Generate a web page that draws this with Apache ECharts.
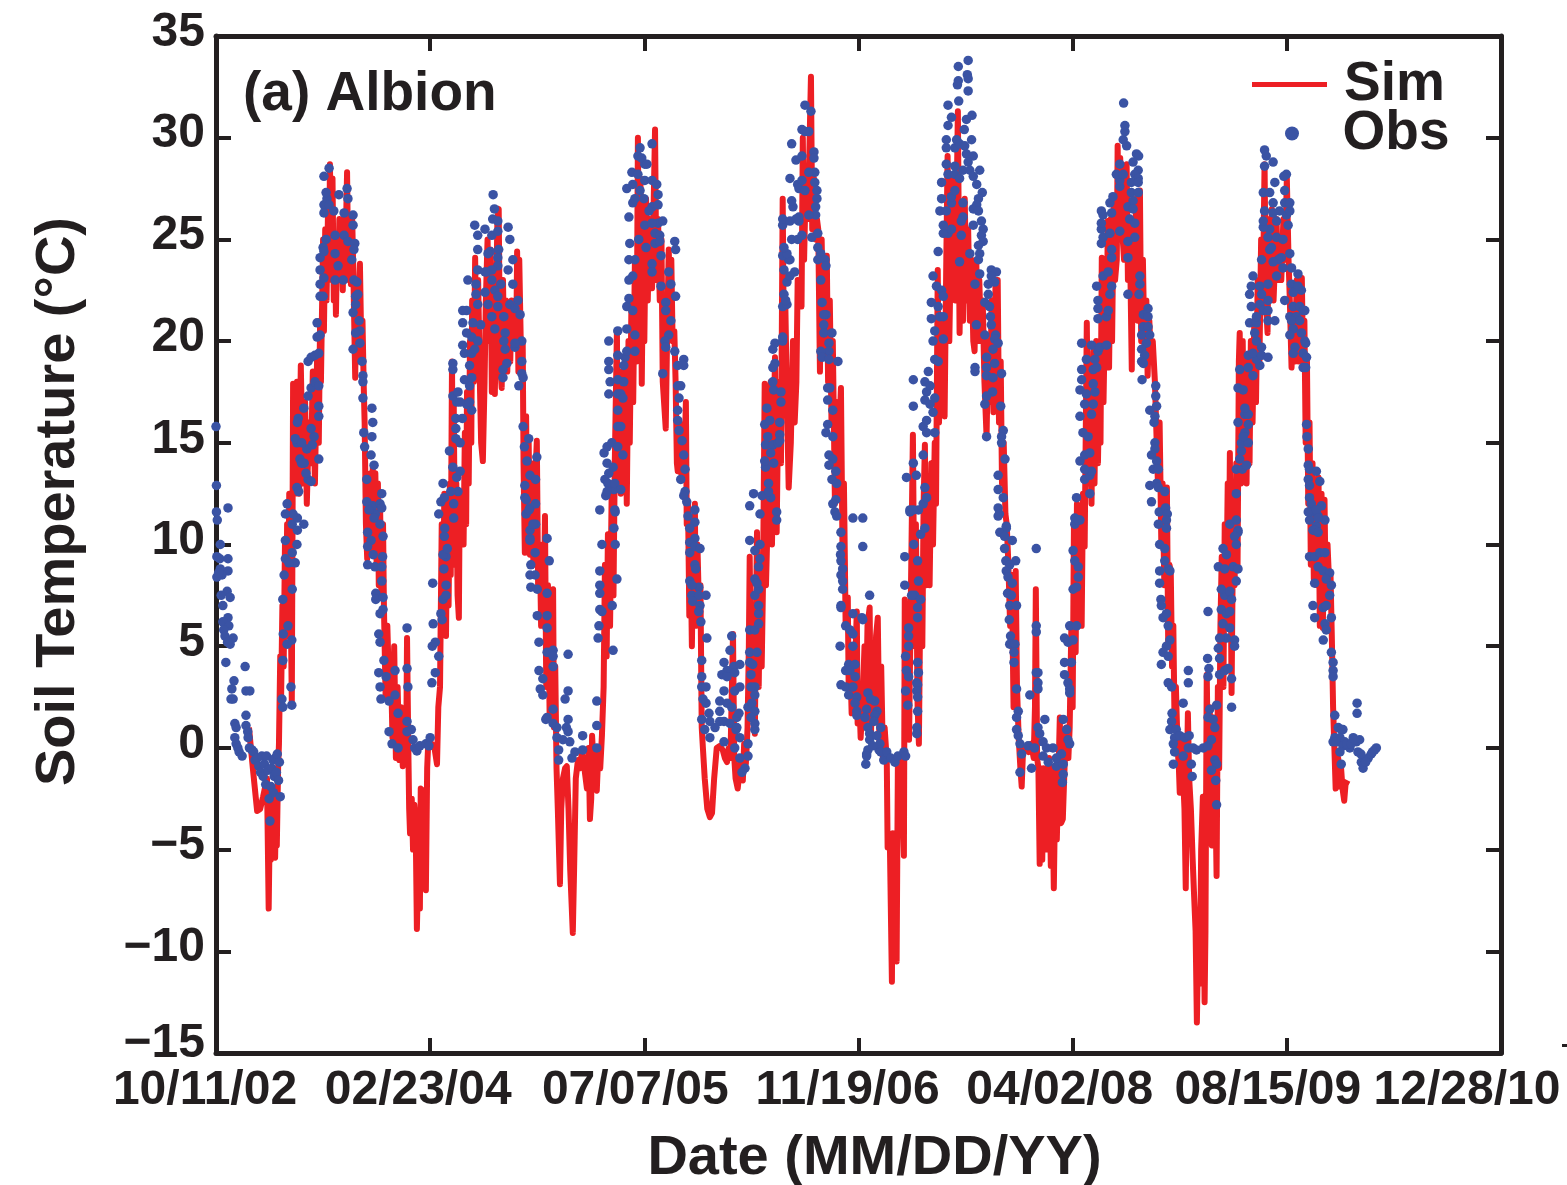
<!DOCTYPE html>
<html>
<head>
<meta charset="utf-8">
<title>Soil temperature - Albion</title>
<script src="https://cdn.jsdelivr.net/npm/echarts@6/dist/echarts.min.js"></script>
<style>
  html, body { margin: 0; padding: 0; background: #fff; }
  #chart { width: 1567px; height: 1185px; }
</style>
</head>
<body>
<div id="chart"></div>
<script>
// x is days since 10/11/02, y is soil temperature in deg C
const dateLabels = ["10/11/02", "02/23/04", "07/07/05", "11/19/06", "04/02/08", "08/15/09", "12/28/10"];
const dateLabelShift = [22, 24, 18, 22, 26, 38, 68];
const tempTicks = [35, 30, 25, 20, 15, 10, 5, 0, -5, -10, -15];

const sim2003 = [[77,1],[86,-1],[96,-3.1],[103,-3],[110,-2.4],[117,-1.7],[119,-1.5],[123,-7.9],[126,-3],[128,-5.5],[131,-2],[135,-4.6],[138,-5.4],[140,-3],[142,-4.8],[145,-1],[147,0.2],[150,4.5],[152,2.5],[155,7],[158,4],[161,10],[164,6],[166,11],[168,5.5],[171,12.5],[174,8],[177,2.2],[180,17.9],[184,12.5],[189,18],[194,12.5],[198,18.8],[203,13],[208,17],[212,12],[217,16],[222,14],[226,18.5],[231,13],[236,19.2],[240,15],[243,21],[245,18],[250,25],[252,20.5],[255,25.5],[258,22],[262,27],[264,23],[266,28.7],[269,24],[272,28],[275,22],[278,25],[280,21.3],[283,25],[285,23],[288,26],[291,23],[293,25.5],[296,22.5],[299,26],[302,24],[306,28.3],[309,23],[312,25],[315,22.8],[318,26],[321,23],[325,18.2],[328,23],[331,19],[333,22],[336,23.8],[339,20],[342,21],[345,17.7],[347,16],[350,11],[353,9.3],[356,12],[359,9.5],[361,13.5],[364,10],[366,13.8],[369,9.5],[372,13.5],[375,9],[378,13],[380,8],[383,12],[386,7.5],[390,11],[392,7],[396,2.5],[400,6],[404,3],[408,4.5],[412,0.5],[416,5],[420,-0.5],[424,3],[428,-0.6],[432,2],[436,-0.9],[440,1.5],[444,-0.3],[446,5.4],[449,0],[451,-3],[453,-4.2],[457,-2.5],[460,-5],[463,-2.8],[466,-3.5],[469,-8.9],[472,-6],[476,-7.9],[478,-2],[483,-2.1],[487,-5],[490,-7],[493,-1],[495,0],[504,0.2],[510,0],[516,-0.8],[519,2]];
const sim2004 = [[523,3],[527,11],[530,6],[533,12.5],[537,5.5],[540,12],[543,7],[546,13],[548,8.5],[551,19],[553,11],[555,17],[558,9],[561,13],[564,7.5],[567,6.4],[569,12.5],[572,11],[576,12],[578,10],[581,15.5],[584,11],[586,17.5],[590,13],[593,20],[596,15],[598,22],[602,18],[605,24.1],[608,19],[612,23],[616,18],[619,15],[623,14.1],[627,18],[630,22],[634,25],[638,20],[641,24.5],[644,17.5],[647,23],[651,17.4],[654,22],[657,26],[660,26.5],[663,19],[667,17.7],[670,23],[673,19],[677,22],[680,18.5],[683,21],[687,19],[690,22],[694,20],[698,22],[701,20],[703,24.4],[706,18.5],[708,24],[712,19.4],[716,20],[718,14],[721,9.6],[724,16.3],[727,10],[730,15],[733,9.5],[737,14],[741,9],[745,13],[749,15.1],[752,8],[756,10],[759,6],[762,9],[765,6],[768,11.4],[771,3],[775,8],[779,1.5],[783,7],[787,7.8],[789,1],[792,4],[795,-1],[798,-3],[803,-6.7],[806,-3],[810,-1.5],[815,-1],[819,-0.9],[823,-3],[827,-6],[833,-9.1],[836,-6],[840,-1.5],[845,-0.6],[850,-1],[854,-0.2],[860,-1],[866,-2],[870,0],[873,-3.5],[876,-2.5],[878,0.6],[882,-1],[886,-2],[889,-2.1],[893,0],[897,-1],[901,0.6]];
const sim2005 = [[905,3],[908,9],[912,4.5],[915,10.5],[920,6],[924,13],[928,7.5],[931,14],[936,20.5],[938,13],[942,16],[945,12.5],[948,18.5],[952,14],[955,19],[959,12],[963,20],[966,15],[970,22],[974,17],[978,24],[982,19],[985,30],[988,21],[991,28],[994,17.9],[997,24],[1000,20],[1004,27],[1008,22],[1012,26],[1018,22.6],[1022,27],[1025,30.4],[1028,23],[1032,26],[1036,22],[1040,25],[1043,18],[1050,15.7],[1053,20],[1057,24.5],[1060,22],[1063,24],[1066,20],[1070,20.5],[1073,18],[1076,14],[1078,13.6],[1082,16],[1086,13.5],[1090,15],[1093,13.5],[1097,17],[1099,11],[1102,12],[1105,6.5],[1108,10],[1111,5],[1114,9.5],[1118,12],[1120,6],[1124,10],[1128,6.4],[1131,8],[1134,1],[1137,-0.1],[1141,-1.5],[1147,-3],[1153,-3.4],[1158,-3.2],[1163,-1.5],[1169,0],[1176,0.1],[1183,-0.1],[1188,-0.5],[1193,-0.7],[1197,0],[1201,-0.5],[1204,2.5],[1207,5.6],[1210,-0.5],[1213,-1.5],[1218,-2],[1222,-1.2],[1226,-0.5],[1230,-1.6],[1233,0.2],[1237,-0.8],[1241,1],[1244,5],[1246,9.4],[1249,3],[1252,6],[1255,2],[1258,0.7]];
const sim2006 = [[1261,7],[1263,10.6],[1267,3],[1271,9],[1274,4],[1277,8],[1281,17.9],[1284,8],[1288,11.3],[1291,12],[1295,18],[1298,10],[1302,15],[1305,19.2],[1309,10.6],[1312,16],[1316,18],[1319,14],[1323,27],[1326,19],[1329,22],[1333,17],[1337,12.8],[1342,15],[1347,20],[1351,16],[1355,18],[1358,23],[1367,21.7],[1370,30],[1373,24],[1377,28],[1381,26],[1385,29],[1389,33],[1392,25.5],[1396,28],[1400,25],[1403,26],[1406,25.5],[1410,18.5],[1414,25],[1418,19.5],[1422,22],[1426,24.2],[1429,18],[1433,22],[1437,16],[1440,20],[1445,12],[1449,17],[1452,12.5],[1456,16],[1459,17.7],[1463,9],[1466,13],[1470,6],[1475,7.4],[1477,3],[1480,5],[1484,1.7],[1492,4],[1496,6.7],[1498,1.2],[1501,3],[1505,0.5],[1510,2.5],[1514,5],[1517,1],[1521,6],[1526,6.9],[1529,0.5],[1533,5],[1537,1.5],[1541,5.5],[1545,6.4],[1549,0],[1553,4],[1557,-0.5],[1561,1],[1566,-0.6],[1568,-4.9],[1573,-4.3],[1578,-11.5],[1580,-4.2],[1585,-8],[1589,-10.5],[1592,-0.6],[1596,-0.5],[1601,-1.5],[1606,-5.3],[1608,7.3],[1611,0.5],[1615,7],[1618,0.4]];
const sim2007 = [[1622,7],[1627,15.4],[1631,5],[1634,11],[1638,2],[1641,0.2],[1645,9],[1649,5],[1652,12],[1655,14.9],[1658,8],[1662,13],[1666,8],[1670,14],[1674,10],[1678,15],[1681,12],[1685,23.5],[1688,16],[1692,21],[1696,17],[1701,16.3],[1705,24],[1708,29.1],[1712,20],[1716,25],[1720,28],[1726,22],[1732,31.3],[1736,20.4],[1740,26],[1744,21],[1748,27],[1752,22],[1756,25.5],[1760,21],[1764,24],[1768,20],[1771,19.5],[1775,24],[1778,20],[1782,23],[1786,20],[1790,22],[1794,18],[1799,15.3],[1803,20],[1807,17],[1811,22],[1815,16.5],[1820,23],[1825,23],[1828,16],[1832,19],[1835,13],[1839,15],[1843,11.5],[1846,11],[1850,9],[1854,6],[1858,8.5],[1862,2],[1867,8.7],[1870,3],[1874,0.5],[1878,-1],[1881,-1.9],[1884,-0.2],[1890,0],[1897,-0.2],[1903,0.2],[1909,-0.5],[1912,2],[1914,7.8],[1917,-0.5],[1920,-1],[1923,-5.7],[1926,-1],[1929,-5.5],[1932,-1],[1935,-4],[1938,-1],[1941,-5],[1945,-0.5],[1949,-5.8],[1952,-1],[1956,-6.9],[1960,-1],[1963,-4.5],[1966,-2],[1970,1.5],[1973,-3.7],[1977,-3.5],[1981,-1],[1985,1],[1990,-0.5],[1993,1]];
const sim2008 = [[1997,6],[2000,2],[2003,11],[2007,4.7],[2010,12],[2014,6],[2017,11.5],[2021,6],[2024,12.5],[2028,9.9],[2033,20.9],[2037,13],[2041,18],[2044,12],[2048,19.5],[2051,13],[2055,20],[2059,14],[2063,19],[2065,15],[2068,24.1],[2072,17],[2076,22],[2079,18.7],[2082,25.9],[2085,18.7],[2089,26],[2092,20],[2096,27],[2099,23],[2103,24],[2105,29.6],[2108,25],[2111,29],[2114,26],[2117,26],[2120,24],[2123,28],[2126,28.7],[2129,23],[2133,26],[2138,18.6],[2141,26],[2144,22],[2148,27],[2152,21],[2157,27.4],[2160,20],[2164,24],[2168,19],[2172,22],[2175,18.3],[2179,21],[2183,19],[2187,20],[2192,18],[2196,18],[2199,13],[2203,16],[2207,10],[2210,13],[2214,8],[2217,10],[2220,12.8],[2223,5.2],[2226,9],[2229,8.7],[2232,4],[2235,6],[2238,1],[2241,3],[2245,0],[2248,-1],[2250,-2.2],[2254,0.5],[2258,-1.5],[2261,-3],[2264,-6.9],[2267,-1],[2269,1.7],[2272,-1.5],[2276,-3],[2280,-5.4],[2283,-7],[2287,-9],[2290,-13.5],[2294,-8],[2297,-11.6],[2300,-5],[2304,-2.4],[2308,-12.5],[2310,-9],[2313,3.6],[2316,-1],[2320,2],[2325,-4.8],[2329,1.5],[2333,-2],[2336,-6.3],[2339,3],[2342,-1]];
const sim2009 = [[2345,6],[2348,9.4],[2352,3],[2355,11],[2358,6],[2362,13],[2365,9],[2367,14.5],[2371,2.7],[2375,12],[2378,8],[2382,14],[2385,9],[2388,19],[2390,20.4],[2393,13],[2397,20],[2400,13.5],[2403,19],[2406,13],[2409,19],[2413,14],[2416,20],[2420,16],[2424,21],[2428,17],[2432,23],[2436,19],[2440,25],[2444,22],[2448,28.7],[2451,22],[2455,20.4],[2458,26],[2462,23],[2465,26.5],[2469,22],[2472,22],[2476,26],[2479,23],[2483,25],[2487,23],[2492,26],[2496,24],[2500,28],[2504,24],[2507,22],[2511,18.7],[2515,21],[2519,19],[2523,23],[2527,19],[2531,22],[2535,23.1],[2538,18.7],[2541,21],[2544,15],[2547,19],[2550,12],[2553,16],[2556,9],[2560,14],[2563,8.3],[2567,13],[2570,8],[2574,13.3],[2577,6],[2581,12.5],[2584,5.9],[2588,12.2],[2591,7],[2595,10],[2599,8],[2602,8.5],[2605,5.5],[2608,2],[2611,0],[2614,-2],[2617,-2],[2620,-0.5],[2623,-1.9],[2626,-0.8],[2630,-2],[2634,-2.6],[2637,-1.8],[2642,-1.6]];

const obs2003 = [[0,15.8],[1,12.9],[1,11.6],[3,11.2],[28,11.8],[10,10],[2,9.4],[9,9.3],[28,9.3],[10,8.8],[28,8.7],[14,8.5],[2,8.4],[6,8.6],[26,7.7],[12,7.5],[33,7.4],[16,7],[28,6.4],[16,6.2],[30,6],[18,5.8],[21,5.5],[40,5.4],[33,5.1],[27,5.2],[23,4.2],[42,3.3],[68,4],[37,2.9],[70,2.8],[79,2.8],[40,2.4],[35,2.4],[70,1.6],[44,1.2],[47,1],[70,1.1],[74,0.8],[44,0.5],[47,0.2],[51,0],[54,-0.2],[61,-0.4],[75,0.5],[78,0],[84,-0.1],[88,-0.2],[91,-0.6],[96,-0.5],[100,-0.9],[104,-1.2],[107,-0.4],[110,-1.4],[113,-0.8],[116,-1.8],[118,-0.4],[121,-1.1],[124,-2.5],[126,-3.6],[128,-1.9],[130,-1],[133,-0.6],[134,-2.2],[136,-1.4],[138,-0.5],[141,-1.2],[143,-0.3],[146,-1.6],[148,-0.7],[150,-2.4],[154,2.4],[156,2],[177,2.1],[175,3],[156,4.3],[166,5.1],[157,5.6],[177,5.3],[168,6],[156,7.3],[178,7.8],[159,8.5],[162,9.3],[185,9.1],[170,9.1],[178,9.6],[162,10.2],[189,10],[178,11],[190,10.7],[190,11.3],[205,11],[180,11.5],[162,11.5],[166,12],[189,12.8],[193,12.6],[215,13.2],[222,13.1],[210,13.5],[206,14],[196,14.2],[240,14.2],[200,14],[212,14.7],[189,15],[185,15.2],[200,15],[225,14.9],[229,15.3],[192,16.2],[205,16.7],[215,17.3],[222,17.7],[240,16.8],[240,16.3],[231,18],[240,17.8],[190,16],[222,15.7],[215,19],[222,19.2],[231,19.3],[240,19.4],[236,20.2],[243,20.3],[236,20.9],[243,22.2],[250,22.2],[243,22.8],[243,23.5],[243,24.1],[250,24.6],[257,25],[252,26.7],[259,27],[252,28.1],[264,28.5],[257,27.3],[252,26.3],[264,26.7],[275,26.4],[287,27.2],[306,27.5],[308,27],[299,26.3],[320,26.2],[320,25.7],[278,25.2],[299,25.2],[308,24.9],[324,24.8],[322,24.5],[252,24.4],[278,24.3],[285,23.7],[252,23.1],[278,23],[297,23],[317,24],[322,23],[329,22.9],[326,22.2],[331,22.3],[326,21.8],[320,21.4],[334,21],[336,20.5],[326,20.4],[336,19.9],[320,19.6],[341,19],[343,18.3],[343,18],[343,17.2],[364,16.7],[366,16],[345,15.5],[364,15.3],[347,14.8],[362,14.4],[369,13.9],[352,13.2],[352,12.1],[366,11.9],[387,12.5],[383,12],[372,11.5],[387,11.8],[357,11.7],[369,11.3],[383,11],[354,10.6],[362,10.2],[354,9.9],[390,10.4],[367,9.5],[389,9.4],[354,9],[371,8.9],[387,8.9],[387,8.2],[373,7.6],[373,7.3],[390,7.4],[390,6.8],[383,6.6],[380,5.6],[383,5.2],[380,3.7],[392,4.3],[383,3],[385,2.4],[397,3.5],[446,5.9],[446,3.9],[418,3.8],[418,2.6],[404,2.3],[448,3],[425,1.7],[446,1.3],[456,0.9],[404,0.8],[446,0.8],[411,0.2],[425,0],[460,0.4],[464,0],[469,-0.15],[476,0.1],[490,0.2],[500,0.5],[497,0.1]];
const obs2004 = [[504,3.2],[512,3.7],[520,4.5],[505,5],[512,5.2],[507,6.1],[525,6.6],[506,8.1],[528,6.3],[530,7.3],[537,7.5],[537,8],[532,8.8],[537,9.4],[530,9.5],[540,9.8],[533,10.4],[534,10.8],[555,11.3],[555,12],[520,11.5],[525,12.1],[530,13],[533,12.3],[565,12.6],[548,12.6],[562,13.3],[553,13.8],[570,13.6],[545,14.6],[560,15.2],[570,15],[560,15.7],[560,16.2],[575,16.2],[597,16.6],[562,17],[585,16.9],[570,17],[592,17],[553,17.3],[565,17.5],[592,17.8],[580,18.1],[597,18.2],[553,18.6],[553,18.9],[592,18.8],[580,19.4],[597,19.4],[576,19.8],[604,19.6],[597,20.2],[611,20],[576,20.9],[600,20.9],[585,20.4],[585,21.5],[576,21.5],[607,22.3],[588,23],[611,23.5],[632,23.4],[607,22.8],[611,24.5],[640,24.4],[611,25.2],[604,25.7],[628,25.5],[644,25.2],[660,24.5],[646,26],[650,26.5],[647,27.2],[635,24.3],[658,25.9],[658,25.4],[682,25.6],[686,25],[658,24.1],[658,23.7],[682,23.5],[693,24],[644,23.5],[644,23],[628,23.4],[665,22.8],[651,22.5],[658,22.2],[693,22.8],[705,22],[686,21.8],[628,22.4],[635,21.8],[611,21.8],[658,21.7],[698,21.6],[644,21.2],[672,21.2],[618,20.8],[651,20.6],[710,21.3],[675,20.4],[672,20],[675,19.6],[698,19.7],[714,20],[698,19.9],[679,18.9],[670,18.6],[714,19],[670,18.2],[714,18.4],[707,17.8],[717,18.2],[717,15.8],[730,15.2],[720,14.8],[726,14.1],[749,14.3],[733,13.4],[721,12.9],[721,12.3],[746,13.2],[724,12.2],[733,11.8],[746,12],[724,11.5],[746,11],[733,10.7],[731,11.7],[740,11],[733,10.3],[773,10.3],[733,10.2],[745,9.6],[778,9.2],[735,9],[745,8.5],[733,8.5],[735,7.9],[750,7.8],[773,7.6],[750,6.5],[773,6.5],[773,5.9],[754,5.2],[773,4.7],[787,4.8],[787,4.5],[754,3.8],[787,4],[763,3.4],[757,2.9],[763,2.6],[787,1.9],[773,1.5],[770,1.4],[787,1.2],[822,4.6],[822,2.8],[815,2.4],[822,1.4],[818,1],[822,0.8],[796,1],[796,0.5],[810,0.4],[800,-0.1],[826,0.3],[856,0.6],[800,-0.6],[831,-0.5],[838,-0.2],[856,-0.1],[889,0],[889,1.1],[889,2.3],[927,4.8],[892,5.4],[894,6],[925,7],[896,6.8],[901,6.7],[896,7.6],[896,8],[896,8.7],[936,8.3],[901,10],[932,10],[929,10.8],[932,11.6],[896,11.7],[910,12.4],[929,12.7],[908,13.2]];
const obs2005 = [[913,14],[915,13],[913,12.6],[931,11.7],[917,13.5],[906,14.5],[913,14.8],[924,15],[931,13],[945,12.7],[950,14.4],[927,13.8],[938,14.8],[938,15.8],[945,15.8],[938,16.6],[938,17.4],[917,17.4],[945,17.4],[950,17.2],[920,18],[917,18.6],[938,18.1],[952,18],[952,18.8],[955,19.2],[917,19],[938,19.3],[917,20],[938,20.5],[959,19.5],[978,19.5],[959,20.6],[978,20.3],[959,21.7],[973,21.5],[964,22.1],[964,23],[973,23.2],[964,24],[966,24.8],[978,24],[987,25],[964,26.1],[973,26.8],[959,27.5],[973,27.7],[971,28.3],[985,28.2],[978,27],[990,27.4],[985,29.1],[990,29.5],[1001,28.7],[1018,29.7],[994,29],[1006,28.7],[1001,27.9],[1018,27.9],[1029,27.7],[1032,27.2],[999,27],[1018,26.6],[1032,26.7],[1011,26.4],[1032,25.8],[1001,25.7],[1018,25.8],[1025,25.3],[1004,24.6],[1025,24.8],[1043,25.9],[1036,25.2],[1036,24.9],[1071,24.9],[1073,24.5],[1039,24.2],[1018,23.8],[1018,23.4],[1057,23.4],[1039,22.7],[1062,22.8],[1073,22.2],[1050,21.9],[1050,21.5],[1062,21],[1057,20.3],[1048,20],[1050,19.7],[1071,19.5],[1092,19.1],[1092,18.8],[1078,18.8],[1043,18.4],[1078,17.8],[1085,17.8],[1081,17.2],[1078,16.6],[1078,16.1],[1081,15.6],[1088,15.1],[1092,14.4],[1085,13.2],[1095,13.7],[1095,12.6],[1092,12.4],[1099,12.1],[1102,11.4],[1118,11.7],[1118,11.1],[1106,10.8],[1118,10.3],[1106,10.1],[1106,9.6],[1118,9.9],[1130,9.8],[1118,9],[1120,8.8],[1106,8.2],[1127,7.9],[1111,8],[1111,7.5],[1127,7.5],[1113,7.2],[1144,7.5],[1130,7],[1127,6.7],[1132,6.2],[1146,5.4],[1134,4.3],[1134,3.5],[1134,3],[1144,3],[1137,2.4],[1144,2.2],[1151,1.7],[1134,1.4],[1153,1.3],[1176,1.3],[1141,0.9],[1165,1],[1186,1.3],[1200,1.2],[1153,0.5],[1186,0.3],[1214,0.9],[1186,4.2],[1200,4.8],[1193,3.8],[1181,3.6],[1193,3.5],[1186,2.8],[1176,2.3],[1176,1.8],[1204,5.5],[1209,4],[1223,4.1],[1211,3.7],[1211,2.8],[1223,3],[1193,2.2],[1204,2],[1216,1.5],[1221,1.7],[1216,1],[1242,2],[1223,0.5],[1211,0],[1242,0.2],[1223,-0.5],[1242,-0.4],[1235,-1],[1228,-1.2],[1258,1.2],[1258,0.9],[1246,5.8],[1246,4.7],[1246,4.2],[1253,4.1],[1249,3.6],[1258,3],[1258,2.6],[1249,3],[1251,2.2],[1258,1.8],[1249,1.5],[1263,4.7],[1258,5.8],[1267,6.1],[1267,6.6],[1267,7],[1258,7.5],[1267,7.8],[1258,8.3],[1263,8.1],[1267,8.9],[1246,10.2],[1270,9.3],[1270,10],[1258,9.7],[1246,11.9]];
const obs2006 = [[1255,12.5],[1275,12.4],[1270,11.5],[1309,11.6],[1309,11.2],[1295,12.3],[1290,12.6],[1290,13],[1283,13.8],[1281,14.1],[1302,14],[1283,14.9],[1300,14.9],[1312,15],[1295,14.5],[1288,15.3],[1316,15.4],[1316,15.1],[1281,15.9],[1293,16.1],[1316,16],[1286,16.7],[1302,17.6],[1319,17.5],[1319,17],[1300,18],[1300,18.7],[1305,18.9],[1300,19.6],[1305,19.9],[1323,20],[1323,20.2],[1323,21.7],[1333,21.8],[1326,22.3],[1330,22],[1333,22.9],[1351,23.4],[1340,23.2],[1326,23.5],[1337,24],[1323,24.2],[1340,24],[1333,24.3],[1326,24.6],[1323,25.7],[1323,26],[1344,25],[1358,25],[1340,25.9],[1361,25.9],[1347,26.6],[1344,26.9],[1358,27.7],[1340,28],[1354,28.9],[1344,29.7],[1368,30.4],[1375,31.6],[1389,31.3],[1384,30.3],[1375,30.3],[1396,29.3],[1368,29.1],[1396,29],[1398,28.3],[1384,28.3],[1368,27.9],[1398,27.8],[1361,27.5],[1375,27.4],[1403,27.4],[1403,27],[1400,26.6],[1400,26.2],[1384,26.2],[1361,26.1],[1354,26],[1368,25.2],[1391,25.1],[1405,25.3],[1405,24.6],[1412,24.3],[1405,24],[1422,24],[1424,23.7],[1412,23],[1415,21.9],[1424,21.3],[1419,21.3],[1419,20.8],[1419,20.4],[1438,20.4],[1431,19.9],[1431,19.5],[1412,19.5],[1415,19.2],[1431,19.1],[1452,19],[1428,17.7],[1433,17.7],[1428,17.1],[1440,16.6],[1428,15.9],[1424,15.5],[1440,15.3],[1431,14.4],[1440,14.2],[1431,13.9],[1447,13.6],[1438,13.2],[1449,13],[1447,12.2],[1440,12],[1445,11.6],[1449,11.4],[1459,10.6],[1487,11.3],[1510,11.3],[1459,9.9],[1458,9.5],[1459,9.2],[1463,8.8],[1459,8.5],[1463,8.2],[1463,7.8],[1510,9.9],[1459,7],[1459,6.9],[1487,6.6],[1508,6.4],[1510,6.3],[1470,6],[1480,5.8],[1487,5.6],[1457,5],[1487,5],[1526,7.5],[1477,4.1],[1492,4.1],[1470,3.8],[1480,3.8],[1492,3.5],[1459,3.1],[1470,3],[1487,3],[1477,2.6],[1496,2.5],[1492,2.2],[1496,1.8],[1496,1.6],[1522,2.7],[1538,2.3],[1519,1.9],[1543,1.8],[1528,2.4],[1515,1.5],[1538,1.6],[1522,1],[1536,1.3],[1552,1],[1526,0.7],[1526,0.4],[1543,0.6],[1550,0.2],[1548,-0.1],[1522,-0.1],[1533,0.1],[1519,-0.3],[1517,-0.8],[1519,-0.4],[1552,-0.2],[1559,-0.6],[1566,-0.2],[1575,-0.5],[1585,-0.7],[1592,-0.4],[1606,-0.2],[1610,-0.4],[1617,5.9],[1617,5.5],[1610,4.5],[1617,5],[1612,3.8],[1617,3.5],[1610,2.8],[1615,2.1],[1636,3.2],[1638,1.8],[1636,1],[1636,0.7],[1608,8],[1608,9.4],[1620,11.6],[1629,10],[1638,9.2],[1640,11.7],[1645,10.5],[1640,8.2],[1631,7.5],[1624,7.5],[1645,7.3],[1638,6.9],[1638,6.4],[1638,4.2],[1640,3.7],[1638,3.1],[1636,2.8],[1638,2.5]];
const obs2007 = [[1620,11.7],[1628,11.7],[1612,13.3],[1635,13.4],[1628,14],[1651,14.4],[1655,12.8],[1651,12],[1659,12.3],[1655,10.8],[1628,16.8],[1628,18.1],[1655,18],[1663,18.5],[1659,17.5],[1655,17.1],[1667,17.8],[1651,15.8],[1659,16.1],[1659,15.5],[1667,16.9],[1678,17.2],[1674,16.5],[1678,15.5],[1678,19.1],[1686,19],[1674,20],[1678,20.5],[1698,20.1],[1670,21.1],[1690,21.2],[1698,21.2],[1670,21.9],[1686,21.7],[1682,22.7],[1694,22.5],[1698,22.2],[1674,23.2],[1686,24.4],[1709,25.3],[1698,25.3],[1717,25.5],[1698,25.7],[1690,26.4],[1705,26.4],[1717,26.8],[1694,27],[1717,27.1],[1694,27.8],[1709,28.2],[1725,27.4],[1725,28.2],[1705,28.7],[1725,28.6],[1736,28],[1705,29.5],[1725,29.5],[1705,29.9],[1729,29.9],[1709,30.6],[1717,31],[1709,31.6],[1734,31.8],[1756,32.3],[1731,32.6],[1733,32.8],[1754,33.1],[1756,32.9],[1733,33.5],[1756,33.8],[1752,30.9],[1765,31.1],[1747,30.4],[1764,29.9],[1736,29.7],[1748,29.6],[1752,29.2],[1768,29.1],[1756,28.8],[1744,28.4],[1760,28.4],[1783,28.4],[1768,28.1],[1776,27.7],[1789,27.3],[1780,27],[1776,26.7],[1768,26.5],[1780,26.4],[1744,26.8],[1744,26.1],[1740,25.9],[1768,25.7],[1787,25.9],[1791,25.5],[1740,25.2],[1787,25.2],[1791,24.9],[1780,24.7],[1783,24.3],[1780,24],[1736,23.9],[1783,23.3],[1760,24.3],[1810,23.5],[1822,23.4],[1810,23.2],[1818,22.9],[1803,22.8],[1772,22.8],[1803,22.3],[1795,21.9],[1806,21.7],[1775,20.8],[1808,21.2],[1810,20.8],[1795,20.3],[1820,20.3],[1818,20.1],[1826,19.9],[1814,19.6],[1799,19.2],[1818,18.9],[1772,18.7],[1772,18.5],[1799,18.7],[1799,18.3],[1834,18.4],[1814,18.2],[1813,17.5],[1799,17.3],[1795,16.9],[1832,16.8],[1799,15.3],[1838,15.6],[1834,15.3],[1834,15],[1842,14.2],[1826,13.4],[1826,12.7],[1838,12.3],[1826,11.8],[1826,11.4],[1845,10.8],[1830,10.6],[1829,11.5],[1845,10.9],[1841,10.4],[1859,10.2],[1841,9.8],[1844,9.2],[1867,9.2],[1853,9],[1845,8.7],[1849,8.4],[1859,8.1],[1848,7.6],[1857,7.5],[1853,7],[1869,7],[1852,6.3],[1855,5.5],[1853,5.1],[1865,5.1],[1863,4.7],[1863,4.2],[1869,2.9],[1900,2.6],[1873,1.8],[1869,1.5],[1869,0.9],[1873,0.6],[1877,0.2],[1896,0.1],[1881,-0.3],[1911,0],[1919,1],[1923,0.7],[1935,1.4],[1931,0.3],[1877,-1.2],[1904,-1],[1915,3.7],[1915,6],[1915,5.7],[1919,3.7],[1919,3.2],[1919,2.9],[1915,9.8],[1939,0],[1954,0],[1974,-0.3],[1931,-0.4],[1943,-0.7],[1962,-0.9],[1978,-0.8],[1978,-1.3],[1976,-1.7],[1978,1.4],[1986,0.9],[1989,0.4],[1993,0.2],[1962,-0.5]];
const obs2008 = [[1981,4.2],[1989,3.2],[1993,2.9],[1993,2.7],[1981,3.6],[1997,4.2],[1981,5.4],[1989,5.2],[2001,5.3],[1993,6],[2009,6],[2001,7.8],[2009,7.9],[2013,8.4],[2013,8.9],[2005,9.2],[2001,9.7],[2009,11.2],[2017,11.2],[2005,11],[2005,11.3],[2013,11.2],[2009,12.3],[2040,12.5],[2028,13.2],[2040,13.4],[2044,13.6],[2028,13.7],[2017,14.1],[2028,14.4],[2040,14.5],[2024,15.5],[2036,15.3],[2017,16.3],[2044,16.4],[2028,16.9],[2048,16.9],[2017,17.6],[2032,17.4],[2052,17.5],[2021,18.1],[2048,17.9],[2021,18.6],[2048,18.6],[2056,18.7],[2032,19.1],[2052,19.1],[2059,19.5],[2021,19.9],[2044,19.8],[2063,19.7],[2079,19.8],[2059,21.1],[2079,21.2],[2059,21.6],[2083,21.5],[2059,22],[2087,22.3],[2091,22.7],[2056,22.7],[2071,23.2],[2083,23.4],[2091,24.1],[2091,24.5],[2067,24.8],[2071,25.1],[2067,25.5],[2087,25.3],[2110,25.4],[2067,25.8],[2091,26.3],[2071,26.2],[2067,26.4],[2087,26.8],[2094,27.1],[2110,27.6],[2110,27.9],[2102,28.2],[2118,28.2],[2110,28.7],[2126,29.6],[2118,29.9],[2122,30.3],[2122,30.6],[2119,31.7],[2149,29.2],[2154,29.1],[2141,28.8],[2153,28.4],[2145,28.2],[2153,28],[2137,27.8],[2153,27.8],[2137,27.3],[2153,27.3],[2141,26.9],[2129,26.6],[2141,26.5],[2133,26],[2145,25.8],[2145,25.1],[2129,24.9],[2129,24.1],[2129,22.3],[2157,23.2],[2157,22.8],[2155,22.3],[2176,21.6],[2165,21.3],[2176,21.2],[2165,20.7],[2176,20.7],[2161,20.3],[2180,20.3],[2172,19.9],[2161,19.6],[2168,19.3],[2161,19],[2165,18.9],[2162,18.1],[2194,17.8],[2194,17.3],[2196,16.8],[2180,16.6],[2192,16.3],[2190,16],[2192,15],[2192,14.7],[2184,14.4],[2196,14.1],[2188,13.7],[2200,13.7],[2180,12.9],[2196,13],[2200,12.8],[2215,12.6],[2184,12.1],[2202,11.6],[2217,11.8],[2221,11.5],[2219,11.2],[2200,11],[2219,10.8],[2203,10],[2215,9.8],[2215,9.2],[2203,8.7],[2223,8.8],[2227,8.7],[2203,8.1],[2206,7.3],[2207,7],[2211,6.4],[2219,6.6],[2223,6],[2227,5.3],[2219,5],[2211,4.7],[2223,4.5],[2207,4.1],[2223,3.2],[2231,3],[2232,1.7],[2231,1.3],[2227,0.9],[2242,0.9],[2238,0.5],[2250,0.6],[2235,0.2],[2262,0.5],[2238,-0.2],[2258,-0.4],[2235,-0.8],[2270,3.8],[2270,3.2],[2258,2.2],[2272,0.6],[2270,0],[2281,0],[2277,-0.8],[2279,-1.4],[2289,-0.1],[2305,0],[2316,0.1],[2324,0.4],[2332,-0.6],[2336,-0.8],[2324,-1.1],[2334,-1.6],[2336,-2.8],[2316,6.7],[2315,4.4],[2318,3.9],[2316,3.5],[2320,1.9],[2316,1.5],[2336,2.1],[2328,1.4],[2332,1],[2343,3.6],[2355,3.8],[2363,3.9],[2343,4.4],[2340,4.9],[2359,5.4],[2378,5.3],[2378,5],[2371,3.4],[2371,2],[2343,5.4],[2351,6.1],[2367,5.9],[2347,6.8],[2359,6.6],[2367,6.7],[2355,7.5],[2371,7.3],[2347,7.8],[2367,7.7],[2382,8.2],[2340,8.9],[2355,8.8],[2375,8.9],[2386,8.8],[2351,9.8],[2359,9.5],[2382,10],[2386,10.7]];
const obs2009 = [[2367,11],[2382,11.2],[2386,10.6],[2378,10.4],[2382,12.5],[2382,13.7],[2396,13.7],[2406,13.9],[2390,14.2],[2394,14.6],[2394,15],[2410,15],[2402,15.5],[2398,15.3],[2410,15.9],[2386,16],[2402,16.4],[2410,16.4],[2402,16.7],[2386,17.7],[2398,17.6],[2390,18.6],[2421,18.3],[2410,18.7],[2437,18.8],[2429,19.1],[2410,19.3],[2421,19.4],[2441,19.3],[2456,19.2],[2441,19.7],[2429,20],[2425,20.4],[2413,20.9],[2429,20.9],[2417,21.7],[2437,21.8],[2429,21.2],[2445,21.5],[2456,21.5],[2456,21],[2472,21],[2456,22],[2495,22],[2413,22.3],[2417,22.7],[2441,22.3],[2437,22.7],[2456,22.8],[2421,23.2],[2476,23.2],[2511,22.8],[2526,23.3],[2491,23.6],[2487,24.1],[2480,24],[2468,23.9],[2441,24],[2511,23.6],[2507,24.3],[2460,24.5],[2464,24.6],[2456,25.1],[2476,25.1],[2491,25],[2460,25.5],[2445,25.6],[2445,25.9],[2476,25.9],[2503,25.7],[2499,26.2],[2448,26.4],[2468,26.3],[2483,26.4],[2507,26.4],[2495,26.8],[2507,26.8],[2468,26.8],[2445,27.3],[2460,27.3],[2472,27.8],[2495,27.4],[2448,28.6],[2499,28.2],[2493,28.1],[2468,28.8],[2452,29.1],[2448,29.4],[2534,22.5],[2515,22.4],[2526,22.7],[2515,21.7],[2530,21.7],[2542,21.5],[2507,21.2],[2522,21.2],[2538,21.5],[2511,21],[2530,21],[2515,20.6],[2534,20.4],[2507,20.3],[2542,20],[2544,19.9],[2519,19.7],[2515,19.4],[2538,19.4],[2546,19.2],[2538,18.7],[2544,18.7],[2546,15.9],[2547,15.3],[2550,14.7],[2550,13.9],[2553,13.7],[2569,13.6],[2550,13.2],[2577,13.1],[2553,12.9],[2553,12.3],[2557,12],[2561,11.6],[2581,11.9],[2553,11.2],[2573,11.4],[2589,11.2],[2569,10.9],[2561,10.7],[2550,11.6],[2569,11.7],[2573,11.3],[2565,10.7],[2573,10.6],[2553,9.4],[2565,9.4],[2577,9.6],[2589,9.6],[2573,8.9],[2585,8.7],[2600,8.6],[2592,8.3],[2604,8],[2565,8.1],[2600,7.5],[2561,7],[2585,6.9],[2592,7],[2565,6.4],[2604,6.4],[2589,6.1],[2592,5.8],[2585,5.3],[2604,4.7],[2608,4.2],[2608,3.8],[2608,3.5],[2612,1.6],[2620,1],[2627,0.9],[2631,0.9],[2612,0.5],[2624,0.5],[2608,0.3],[2616,0.3],[2635,0.3],[2655,0.5],[2631,0.1],[2647,0],[2662,0.3],[2670,0.4],[2624,-0.2],[2666,-0.2],[2627,-0.8],[2674,-0.7],[2678,-1],[2664,2.2],[2664,1.7],[2690,-0.5],[2705,-0.1],[2709,0],[2682,-0.6],[2697,-0.3],[2640,0.2],[2650,0.2],[2658,0.4],[2673,-0.3],[2684,-0.7],[2700,-0.2]];

const simSeries = [].concat(sim2003, sim2004, sim2005, sim2006, sim2007, sim2008, sim2009);
const obsSeries = [].concat(obs2003, obs2004, obs2005, obs2006, obs2007, obs2008, obs2009);

const ink = "#231f20";
const fontFamily = "'Liberation Sans', Arial, sans-serif";
const legendText = { color: ink, fontSize: 55, fontWeight: "bold", fontFamily: fontFamily, lineHeight: 54 };

// the date labels sit left of their ticks in the original, pushed over with padding
const dateRich = {};
dateLabels.forEach((label, i) => {
  dateRich["d" + i] = {
    fontSize: 48, fontWeight: "bold", fontFamily: fontFamily, color: ink,
    padding: [0, dateLabelShift[i], 0, 0],
  };
});

const frameAxis = {
  min: 0,
  axisLine: { show: true, onZero: false, lineStyle: { color: ink, width: 5 } },
  axisTick: { show: true, inside: true, length: 15, lineStyle: { color: ink, width: 4 } },
  splitLine: { show: false },
};

const chart = echarts.init(document.getElementById("chart"), null, { renderer: "canvas" });

chart.setOption({
  animation: false,
  backgroundColor: "#fff",
  title: {
    text: "(a) Albion",
    left: 243,
    top: 67,
    padding: 0,
    textStyle: { color: ink, fontSize: 55, fontWeight: "bold", fontFamily: fontFamily },
  },
  legend: [
    {
      left: 1252,
      top: 57,
      padding: 0,
      itemWidth: 75,
      itemHeight: 5,
      selectedMode: false,
      data: [{ name: "Sim", icon: "rect", itemStyle: { color: "#ed1f24" } }],
      textStyle: { ...legendText, padding: [0, 0, 0, 12] },
    },
    {
      left: 1285,
      top: 106,
      padding: 0,
      itemWidth: 75,
      itemHeight: 14,
      selectedMode: false,
      data: [{ name: "Obs", icon: "circle" }],
      textStyle: { ...legendText, padding: [0, 0, 0, 8] },
    },
  ],
  grid: { left: 216, right: 66, top: 36, bottom: 132, containLabel: false, outerBoundsMode: "none" },
  xAxis: [
    {
      ...frameAxis,
      type: "value",
      position: "bottom",
      max: 3000,
      interval: 500,
      name: "Date (MM/DD/YY)",
      nameLocation: "middle",
      nameGap: 78,
      nameTextStyle: { color: ink, fontSize: 56, fontWeight: "bold", fontFamily: fontFamily, padding: [0, 0, 0, 32] },
      axisLabel: {
        margin: 14,
        hideOverlap: false,
        formatter: (value) => {
          const i = value / 500;
          return "{d" + i + "|" + dateLabels[i] + "}";
        },
        rich: dateRich,
      },
    },
    { ...frameAxis, type: "value", position: "top", max: 3000, interval: 500, axisLabel: { show: false } },
  ],
  yAxis: [
    {
      ...frameAxis,
      type: "value",
      position: "left",
      min: -15,
      max: 35,
      interval: 5,
      name: "Soil Temperature (\u00b0C)",
      nameLocation: "middle",
      nameGap: 129,
      nameRotate: 90,
      nameTextStyle: { color: ink, fontSize: 56, fontWeight: "bold", fontFamily: fontFamily, padding: [0, 0, 0, 86] },
      axisLabel: {
        margin: 11,
        color: ink,
        fontSize: 48,
        fontWeight: "bold",
        fontFamily: fontFamily,
        showMinLabel: true,
        showMaxLabel: true,
        formatter: (value) => {
          const text = String(value).replace("-", "\u2212");
          return value === tempTicks[tempTicks.length - 1] ? "{low|" + text + "}" : "{std|" + text + "}";
        },
        rich: {
          std: { fontSize: 48, fontWeight: "bold", fontFamily: fontFamily, color: ink, padding: [0, 0, 7, 0] },
          low: { fontSize: 48, fontWeight: "bold", fontFamily: fontFamily, color: ink, padding: [0, 0, 18, 0] },
        },
      },
    },
    { ...frameAxis, type: "value", position: "right", min: -15, max: 35, interval: 5, axisLabel: { show: false } },
  ],
  series: [
    {
      name: "Sim",
      type: "line",
      data: simSeries,
      showSymbol: false,
      symbol: "none",
      lineStyle: { color: "#ed1f24", width: 6, join: "round" },
      itemStyle: { color: "#ed1f24" },
      z: 3,
    },
    {
      name: "Obs",
      type: "scatter",
      data: obsSeries,
      symbolSize: 9.5,
      clip: false,
      itemStyle: { color: "#3a53a4", opacity: 1 },
      z: 4,
    },
  ],
  graphic: [
    // stray minus sign clipped at the page edge in the source figure
    { type: "rect", shape: { x: 1562, y: 1044, width: 5, height: 3 }, style: { fill: ink } },
  ],
});
</script>
</body>
</html>
